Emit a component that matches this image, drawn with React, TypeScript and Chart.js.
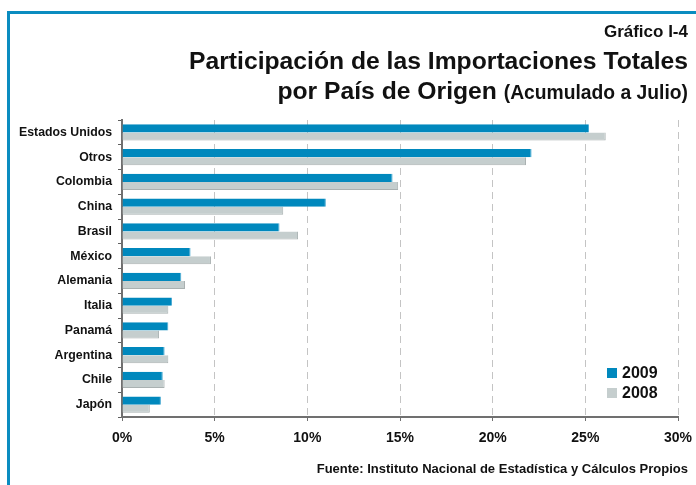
import React, { useEffect, useRef } from "react";
import { Chart, registerables } from "chart.js";

Chart.register(...registerables);

const categories = [
  "Estados Unidos",
  "Otros",
  "Colombia",
  "China",
  "Brasil",
  "México",
  "Alemania",
  "Italia",
  "Panamá",
  "Argentina",
  "Chile",
  "Japón",
];
const values2009 = [25.2, 22.1, 14.6, 11.0, 8.5, 3.7, 3.2, 2.7, 2.5, 2.3, 2.2, 2.1];
const values2008 = [26.1, 21.8, 14.9, 8.7, 9.5, 4.8, 3.4, 2.5, 2.0, 2.5, 2.3, 1.5];
const seriesLabels = ["2009", "2008"];
const seriesColors = ["#0088BD", "#C5CECE"];
const xTicks = [0, 5, 10, 15, 20, 25, 30];

const FONT = "'Liberation Sans', Arial, sans-serif";

export default function App() {
  const ref = useRef<HTMLCanvasElement | null>(null);

  useEffect(() => {
    const canvas = ref.current;
    if (!canvas) return;
    const chart = new Chart(canvas, {
      type: "bar",
      data: {
        labels: categories,
        datasets: [
          {
            label: seriesLabels[0],
            data: values2009,
            backgroundColor: seriesColors[0],
            borderColor: "#4AAAD2",
            borderWidth: { top: 0, left: 0, right: 1, bottom: 0 },
            borderSkipped: false,
            categoryPercentage: 0.66,
            barPercentage: 1.0,
          },
          {
            label: seriesLabels[1],
            data: values2008,
            backgroundColor: seriesColors[1],
            borderColor: "#A9B1B1",
            borderWidth: { top: 0, left: 0, right: 1, bottom: 1 },
            borderSkipped: false,
            categoryPercentage: 0.66,
            barPercentage: 1.0,
          },
        ],
      },
      options: {
        indexAxis: "y",
        responsive: false,
        animation: false,
        devicePixelRatio: 1,
        layout: { padding: { left: 0, top: 120, right: 18, bottom: 0 } },
        plugins: {
          legend: { display: false },
          tooltip: { enabled: false },
          title: { display: false },
        },
        scales: {
          x: {
            type: "linear",
            min: 0,
            max: 30,
            afterBuildTicks: (s: any) => {
              s.ticks = xTicks.map((v) => ({ value: v }));
            },
            afterFit: (s: any) => {
              s.height = 68;
              s.paddingLeft = 0;
              s.paddingRight = 0;
            },
            ticks: {
              callback: (v: any) => v + "%",
              font: { family: FONT, size: 14, weight: "bold" },
              color: "#111111",
              padding: 9,
              maxRotation: 0,
            },
            grid: {
              color: "#C4C4C4",
              lineWidth: 1,
              tickLength: 4,
              tickColor: "#707070",
              tickBorderDash: [],
              tickWidth: 1,
            },
            border: { color: "#707070", width: 2, dash: [7, 5] },
          },
          y: {
            type: "category",
            afterFit: (s: any) => {
              s.width = 122;
              s.paddingTop = 0;
              s.paddingBottom = 0;
            },
            ticks: {
              font: { family: FONT, size: 12.3, weight: "bold" },
              color: "#111111",
              padding: 6,
            },
            grid: {
              drawOnChartArea: false,
              offset: true,
              tickLength: 4,
              color: "#606060",
              lineWidth: 1,
            },
            border: { color: "#707070", width: 2 },
          },
        },
      },
    });
    return () => chart.destroy();
  }, []);

  const abs = (s: React.CSSProperties): React.CSSProperties => ({
    position: "absolute",
    fontFamily: FONT,
    fontWeight: "bold",
    color: "#111111",
    whiteSpace: "nowrap",
    ...s,
  });

  return (
    <div
      style={{
        position: "absolute",
        left: 0,
        top: 0,
        width: 696,
        height: 485,
        overflow: "hidden",
        background: "#ffffff",
      }}
    >
      <div style={{ position: "absolute", left: 7, top: 11, width: 689, height: 3, background: "#0A8CC0" }} />
      <div style={{ position: "absolute", left: 7, top: 11, width: 3, height: 474, background: "#0A8CC0" }} />
      <canvas
        ref={ref}
        width={696}
        height={485}
        style={{ position: "absolute", left: 0, top: 0, width: 696, height: 485 }}
      />
      <div style={abs({ right: 8, top: 22, fontSize: 17, lineHeight: "20px" })}>Gráfico I-4</div>
      <div style={abs({ right: 8, top: 47, fontSize: 24.7, lineHeight: "28px" })}>
        Participación de las Importaciones Totales
      </div>
      <div style={abs({ right: 8, top: 77, fontSize: 24.7, lineHeight: "28px" })}>
        por País de Origen <span style={{ fontSize: 19.3 }}>(Acumulado a Julio)</span>
      </div>
      {seriesLabels.map((lab, i) => (
        <div key={lab} style={abs({ left: 607, top: 364 + i * 20, fontSize: 16, lineHeight: "18px" })}>
          <span
            style={{
              display: "inline-block",
              width: 10,
              height: 10,
              background: seriesColors[i],
              marginRight: 5,
              verticalAlign: "0px",
            }}
          />
          {lab}
        </div>
      ))}
      <div style={abs({ right: 8, top: 461, fontSize: 13, lineHeight: "16px" })}>
        Fuente: Instituto Nacional de Estadística y Cálculos Propios
      </div>
    </div>
  );
}
